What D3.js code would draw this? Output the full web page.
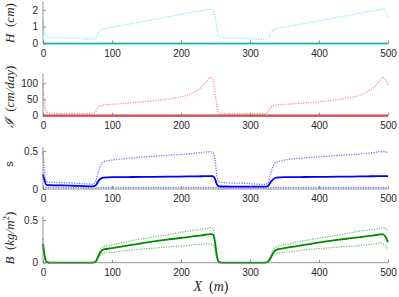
<!DOCTYPE html>
<html><head><meta charset="utf-8">
<script src="https://cdn.jsdelivr.net/npm/d3@7"></script>
<style>body{margin:0;background:#fff}svg{display:block}</style>
</head><body>
<svg id="c" width="399" height="297"></svg>
<script>
const X = [0, 2, 5, 10, 40, 72, 76, 80, 84, 88, 100, 130, 160, 190, 210, 220, 230, 238, 242, 246, 249, 252, 255, 260, 290, 322, 326, 330, 334, 338, 350, 380, 410, 440, 460, 470, 480, 488, 492, 496, 500];
const xTicks = [0, 100, 200, 300, 400, 500];

const H_up = [1.40, 0.75, 0.40, 0.35, 0.32, 0.26, 0.32, 0.62, 0.80, 0.88, 0.97, 1.20, 1.43, 1.66, 1.82, 1.89, 1.96, 2.02, 2.05, 2.02, 1.70, 0.90, 0.42, 0.35, 0.31, 0.24, 0.30, 0.60, 0.80, 0.88, 0.97, 1.20, 1.43, 1.66, 1.82, 1.89, 1.96, 2.02, 2.05, 1.95, 1.60];
const H_low = [0,0,0,0,0,0,0,0,0,0,0,0,0,0,0,0,0,0,0,0,0,0,0,0,0,0,0,0,0,0,0,0,0,0,0,0,0,0,0,0,0];
const H_ticks = [0, 1, 2];

const I_up = [95, 40, 12, 8, 7, 7, 12, 26, 31, 33, 35, 40, 46, 54, 64, 74, 88, 108, 118, 112, 80, 30, 9, 7, 6, 6, 11, 25, 31, 33, 35, 39, 45, 54, 64, 74, 88, 108, 118, 112, 95];
const I_low = [0,0,0,0,0,0,0,0,0,0,0,0,0,0,0,0,0,0,0,0,0,0,0,0,0,0,0,0,0,0,0,0,0,0,0,0,0,0,0,0,0];
const I_ticks = [0, 50, 100];

const s_up = [0.49, 0.25, 0.10, 0.09, 0.08, 0.065, 0.09, 0.22, 0.32, 0.36, 0.38, 0.41, 0.43, 0.45, 0.46, 0.47, 0.48, 0.49, 0.49, 0.48, 0.40, 0.18, 0.09, 0.085, 0.075, 0.06, 0.08, 0.20, 0.31, 0.35, 0.38, 0.41, 0.43, 0.45, 0.46, 0.47, 0.48, 0.49, 0.49, 0.49, 0.47];
const s_mean = [0.19, 0.12, 0.055, 0.05, 0.045, 0.035, 0.045, 0.10, 0.14, 0.15, 0.155, 0.158, 0.16, 0.163, 0.165, 0.167, 0.168, 0.17, 0.17, 0.17, 0.14, 0.06, 0.035, 0.033, 0.03, 0.03, 0.04, 0.09, 0.13, 0.15, 0.155, 0.158, 0.16, 0.163, 0.165, 0.167, 0.168, 0.17, 0.17, 0.17, 0.17];
const s_low = [0.03, 0.025, 0.02, 0.02, 0.018, 0.016, 0.016, 0.018, 0.02, 0.02, 0.02, 0.02, 0.02, 0.02, 0.02, 0.02, 0.02, 0.02, 0.02, 0.02, 0.02, 0.018, 0.016, 0.015, 0.015, 0.014, 0.014, 0.016, 0.018, 0.02, 0.02, 0.02, 0.02, 0.02, 0.02, 0.02, 0.02, 0.02, 0.02, 0.02, 0.02];
const s_ticks = [0, 0.5];

const B_up = [0.28, 0.12, 0.015, 0, 0, 0, 0.015, 0.09, 0.16, 0.19, 0.21, 0.26, 0.30, 0.34, 0.37, 0.38, 0.39, 0.40, 0.41, 0.40, 0.30, 0.10, 0.015, 0, 0, 0, 0.015, 0.08, 0.15, 0.18, 0.21, 0.26, 0.30, 0.34, 0.37, 0.38, 0.39, 0.40, 0.41, 0.40, 0.37];
const B_mean = [0.22, 0.10, 0.01, 0, 0, 0, 0.01, 0.07, 0.13, 0.155, 0.17, 0.21, 0.25, 0.28, 0.30, 0.31, 0.32, 0.33, 0.335, 0.33, 0.25, 0.08, 0.01, 0, 0, 0, 0.01, 0.06, 0.12, 0.15, 0.17, 0.21, 0.25, 0.28, 0.30, 0.31, 0.32, 0.33, 0.335, 0.31, 0.24];
const B_low = [0.16, 0.08, 0.01, 0, 0, 0, 0.005, 0.05, 0.09, 0.11, 0.12, 0.15, 0.17, 0.19, 0.20, 0.21, 0.215, 0.22, 0.22, 0.21, 0.16, 0.05, 0.005, 0, 0, 0, 0.005, 0.04, 0.09, 0.11, 0.12, 0.15, 0.17, 0.19, 0.20, 0.21, 0.22, 0.23, 0.22, 0.20, 0.15];
const B_ticks = [0, 0.5];

const svg = d3.select("#c");
const L = 43, R = 388;
const x = d3.scaleLinear().domain([0, 500]).range([L, R]);

const panels = [
  {ymax: 2.5, y0: 43.5, y1: 1.5, ticks: H_ticks, color: "#00e5ee", dotted: [H_up], solid: [H_low], solidW: 2.2},
  {ymax: 130, y0: 115.7, y1: 73.5, ticks: I_ticks, color: "#ff3030", dotted: [I_up], solid: [I_low], solidW: 2.2},
  {ymax: 0.55, y0: 189, y1: 147.2, ticks: s_ticks, color: "#0000ff", dotted: [s_up, s_low], solid: [s_mean], solidW: 1.8},
  {ymax: 0.54, y0: 262.7, y1: 216.5, ticks: B_ticks, color: "#008a00", dotted: [B_up, B_low], solid: [B_mean], solidW: 1.8}
];

const axisCol = "#7a7a7a", txtCol = "#262626";

panels.forEach((p, i) => {
  const y = d3.scaleLinear().domain([0, p.ymax]).range([p.y0, p.y1]);
  const line = d3.line().x((d, k) => x(X[k])).y(d => y(d)).curve(d3.curveMonotoneX);
  const g = svg.append("g");
  p.dotted.forEach(arr => {
    g.append("path").attr("d", line(arr)).attr("fill", "none")
      .attr("stroke", p.color).attr("stroke-opacity", 0.55).attr("stroke-width", 1.3)
      .attr("stroke-dasharray", "1.2,1.3");
  });
  p.solid.forEach(arr => {
    g.append("path").attr("d", line(arr)).attr("fill", "none")
      .attr("stroke", p.color).attr("stroke-width", p.solidW);
  });
  const xa = g.append("g").attr("transform", `translate(0,${p.y0})`)
    .call(d3.axisBottom(x).tickValues(xTicks).tickSizeInner(-3).tickSizeOuter(0).tickPadding(6));
  const ya = g.append("g").attr("transform", `translate(${L},0)`)
    .call(d3.axisLeft(y).tickValues(p.ticks).tickSizeInner(-3).tickSizeOuter(0).tickPadding(5)
      .tickFormat(d3.format("~g")));
  [xa, ya].forEach(a => {
    a.select(".domain").attr("stroke", axisCol).attr("stroke-width", 0.8);
    a.selectAll(".tick line").attr("stroke", axisCol).attr("stroke-width", 0.8);
    a.selectAll("text").attr("fill", txtCol).style("font-family", "'Liberation Sans', Arial, sans-serif").style("font-size", "10px");
  });
  ya.select(".domain").attr("d", `M0,${p.y0}V${p.y1}`);
  xa.select(".domain").attr("d", `M${L},0H${R}`);
});

// LaTeX-like labels: italic letters, upright punctuation
function mathText(t, parts) {
  parts.forEach(([s, it, extra]) => {
    const ts = t.append("tspan").text(s).style("font-style", it ? "italic" : "normal");
    if (extra) extra(ts);
  });
}
function ylab(cx, cy, parts, size, fam) {
  const t = svg.append("text").attr("transform", `translate(${cx},${cy}) rotate(-90)`)
    .attr("text-anchor", "middle").attr("fill", txtCol)
    .style("font-family", fam || "'Liberation Serif', serif").style("font-size", (size || 13) + "px")
    .attr("xml:space", "preserve").style("white-space", "pre");
  mathText(t, parts);
}
ylab(14, 23, [["H", true], ["  (", false], ["cm", true], [")", false]]);
ylab(14, 97, [["ℐ", true], ["  (", false], ["cm/day", true], [")", false]]);
ylab(13, 164, [["s", false]], 11, "'Liberation Sans', Arial, sans-serif");
ylab(14, 238, [["B", true], ["  (", false], ["kg/m", true],
  ["2", false, ts => ts.attr("dy", -5).style("font-size", "9px")], [")", false, ts => ts.attr("dy", 5)]]);

const xl = svg.append("text").attr("x", 211).attr("y", 291).attr("text-anchor", "middle").attr("fill", txtCol)
  .style("font-family", "'Liberation Serif', serif").style("font-size", "14px")
  .attr("xml:space", "preserve").style("white-space", "pre");
mathText(xl, [["X", true], ["  (", false], ["m", true], [")", false]]);
</script>
</body></html>
